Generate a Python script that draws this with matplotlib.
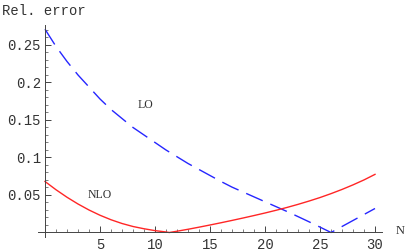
import matplotlib
matplotlib.use("Agg")
import matplotlib.pyplot as plt
from matplotlib.ticker import MultipleLocator, FixedLocator, FixedFormatter

N_lo = [0, 1, 2, 3, 4, 5, 6, 7, 8, 9, 10, 11, 12, 13, 14, 15, 16, 17, 18, 19,
        20, 21, 22, 23, 24, 25, 26, 27, 28, 29, 30]
lo = [0.271, 0.248, 0.228, 0.210, 0.194, 0.178, 0.164, 0.152, 0.140, 0.130,
      0.120, 0.110, 0.101, 0.092, 0.084, 0.076, 0.068, 0.0605, 0.054, 0.0475,
      0.041, 0.0345, 0.028, 0.0212, 0.0143, 0.0072, 0.000, 0.008, 0.016, 0.024, 0.032]

N_nlo = [0, 1, 2, 3, 4, 5, 6, 7, 8, 9, 10, 11, 11.3, 12, 13, 14, 15, 16, 17, 18,
         19, 20, 21, 22, 23, 24, 25, 26, 27, 28, 29, 30]
nlo = [0.068, 0.057, 0.047, 0.038, 0.030, 0.023, 0.017, 0.012, 0.008, 0.005,
       0.0025, 0.0007, 0.0, 0.0017, 0.0043, 0.0071, 0.0100, 0.0130, 0.0161, 0.0193,
       0.0226, 0.0260, 0.0296, 0.0334, 0.0375, 0.0419, 0.0466, 0.0518, 0.0574,
       0.0635, 0.0701, 0.0775]

x_ticks = [5, 10, 15, 20, 25, 30]
y_ticks = [0.05, 0.1, 0.15, 0.2, 0.25]
y_tick_labels = ["0.05", "0.1", "0.15", "0.2", "0.25"]

W, H = 407, 252
fig = plt.figure(figsize=(W / 100, H / 100), dpi=100)
x0, x1 = -0.6, 30.6
y0, y1 = -0.0054, 0.2765
ax = fig.add_axes([38.4 / W, (H - 236.55) / H, (381.6 - 38.4) / W, (236.55 - 25.1) / H])
ax.set_xlim(x0, x1)
ax.set_ylim(y0, y1)

ax.plot(N_lo, lo, color=(0.15, 0.15, 1.0), lw=1.0, dashes=(13, 6))
ax.plot(N_nlo, nlo, color=(1.0, 0.15, 0.15), lw=1.0)

for s in ["top", "right"]:
    ax.spines[s].set_visible(False)
ax.spines["left"].set_position(("data", 0))
ax.spines["bottom"].set_position(("data", 0))
ax.spines["left"].set_linewidth(0.7)
ax.spines["bottom"].set_linewidth(0.7)
ax.spines["left"].set_color("#444444")
ax.spines["bottom"].set_color("#444444")

mono = "Liberation Mono"
ax.xaxis.set_major_locator(FixedLocator(x_ticks))
ax.xaxis.set_minor_locator(MultipleLocator(1))
ax.yaxis.set_major_locator(FixedLocator(y_ticks))
ax.yaxis.set_major_formatter(FixedFormatter(y_tick_labels))
ax.yaxis.set_minor_locator(MultipleLocator(0.01))
ax.tick_params(axis="x", which="major", direction="in", length=4, width=0.7,
               color="#444444", pad=4, labelsize=10)
ax.tick_params(axis="x", which="minor", direction="in", length=2, width=0.6,
               color="#666666")
ax.tick_params(axis="y", which="major", direction="in", length=4, width=0.7,
               color="#444444", pad=3, labelsize=10)
ax.tick_params(axis="y", which="minor", direction="in", length=2, width=0.6,
               color="#666666")
for lab in ax.get_xticklabels() + ax.get_yticklabels():
    lab.set_fontfamily(mono)
    lab.set_color("#333333")

fig.text(44 / W, 1 - 11 / H, "Rel. error", family=mono, fontsize=10,
         ha="center", va="center", color="#333333")
fig.text(400 / W, 1 - 231 / H, "N", family="Liberation Serif", fontsize=9,
         ha="center", va="center", color="#333333")

ax.text(9.1, 0.17, "LO", family="Liberation Serif", fontsize=8.5,
        ha="center", va="center", color="#333333")
ax.text(5.0, 0.05, "NLO", family="Liberation Serif", fontsize=8.5,
        ha="center", va="center", color="#333333")

fig.savefig("out.png", dpi=100)
